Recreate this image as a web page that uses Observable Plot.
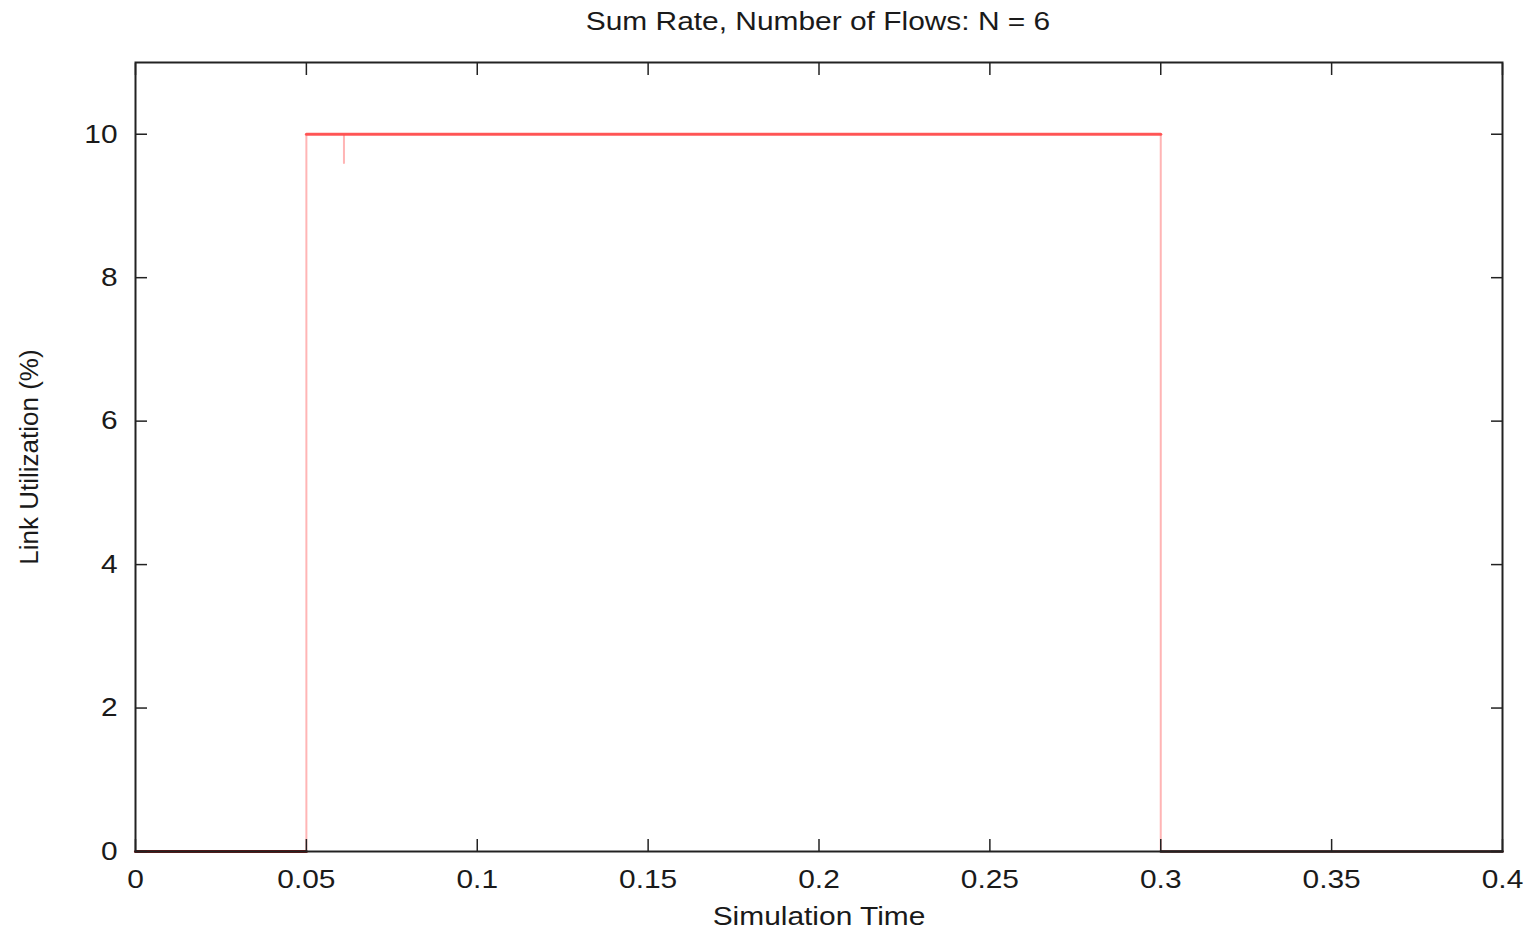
<!DOCTYPE html>
<html>
<head>
<meta charset="utf-8">
<script src="https://cdn.jsdelivr.net/npm/d3@7"></script>
<script src="https://cdn.jsdelivr.net/npm/@observablehq/plot@0.6"></script>
<style>
  html, body { margin: 0; padding: 0; background: #fff; }
  #title { height: 42px; width: 1536px; font-family: "Liberation Sans", Arial, sans-serif; font-size: 26px; color: #1a1a1a; }
  #title div { position: relative; left: 818px; top: 6px; transform: translateX(-50%) scaleX(1.15); white-space: nowrap; display: inline-block; }
  svg text { font-family: "Liberation Sans", Arial, sans-serif; }
</style>
</head>
<body>
<div id="title"><div>Sum Rate, Number of Flows: N = 6</div></div>
<div id="chart"></div>
<script>
// Simulation time (s) and sum rate / link utilization (%)
const time = [0, 0.05, 0.05, 0.061, 0.061, 0.061, 0.3, 0.3, 0.4];
const rate = [0, 0, 10, 10, 9.6, 10, 10, 0, 0];
const xTicks = [0, 0.05, 0.1, 0.15, 0.2, 0.25, 0.3, 0.35, 0.4];
const yTicks = [0, 2, 4, 6, 8, 10];

const data = time.map((t, i) => ({t, r: rate[i]}));
const plateau = data.filter(d => d.r === 10);
const baseline = data.filter(d => d.r === 0);

const font = "Liberation Sans, Arial, sans-serif";
const chart = Plot.plot({
  width: 1536,
  height: 889,
  marginLeft: 135,
  marginRight: 34,
  marginTop: 20,
  marginBottom: 80,
  style: {fontFamily: font, fontSize: "26px", color: "#1a1a1a", background: "#fff"},
  x: {domain: [0, 0.4]},
  y: {domain: [0, 11]},
  marks: [
    Plot.line(data, {x: "t", y: "r", stroke: "#ff2a2a", strokeOpacity: 0.35, strokeWidth: 2}),
    Plot.line(plateau, {x: "t", y: "r", stroke: "#ff3b3b", strokeOpacity: 0.8, strokeWidth: 3}),
    Plot.line(baseline.slice(0, 2), {x: "t", y: "r", stroke: "#7a1010", strokeWidth: 3}),
    Plot.line(baseline.slice(2), {x: "t", y: "r", stroke: "#3a1010", strokeWidth: 2.5}),
    Plot.axisX({anchor: "bottom", ticks: xTicks, tickSize: -12, tickPadding: 30, tickFormat: d => String(d), stroke: "#222", strokeWidth: 1.5, label: null}),
    Plot.axisX({anchor: "top", ticks: xTicks, tickSize: -12, tickFormat: () => "", stroke: "#222", strokeWidth: 1.5, label: null}),
    Plot.axisY({anchor: "left", ticks: yTicks, tickSize: -12, tickPadding: 30, tickFormat: d => String(d), stroke: "#222", strokeWidth: 1.5, label: null}),
    Plot.axisY({anchor: "right", ticks: yTicks, tickSize: -12, tickFormat: () => "", stroke: "#222", strokeWidth: 1.5, label: null}),
    Plot.frame({stroke: "#222", strokeWidth: 2}),
    Plot.text(["Simulation Time"], {frameAnchor: "bottom", dy: 73, fontSize: 26, fill: "#1a1a1a"}),
    Plot.text(["Link Utilization (%)"], {frameAnchor: "left", dx: -106, rotate: -90, textAnchor: "middle", fontSize: 26, fill: "#1a1a1a"})
  ]
});
document.getElementById("chart").appendChild(chart);
// the reference's lettering is stretched horizontally
d3.select(chart).selectAll("text").each(function() {
  const t = this.textContent;
  if (t === "Link Utilization (%)") return;
  const len = this.getComputedTextLength();
  if (len > 0) {
    this.setAttribute("textLength", len * 1.15);
    this.setAttribute("lengthAdjust", "spacingAndGlyphs");
  }
});
</script>
</body>
</html>
